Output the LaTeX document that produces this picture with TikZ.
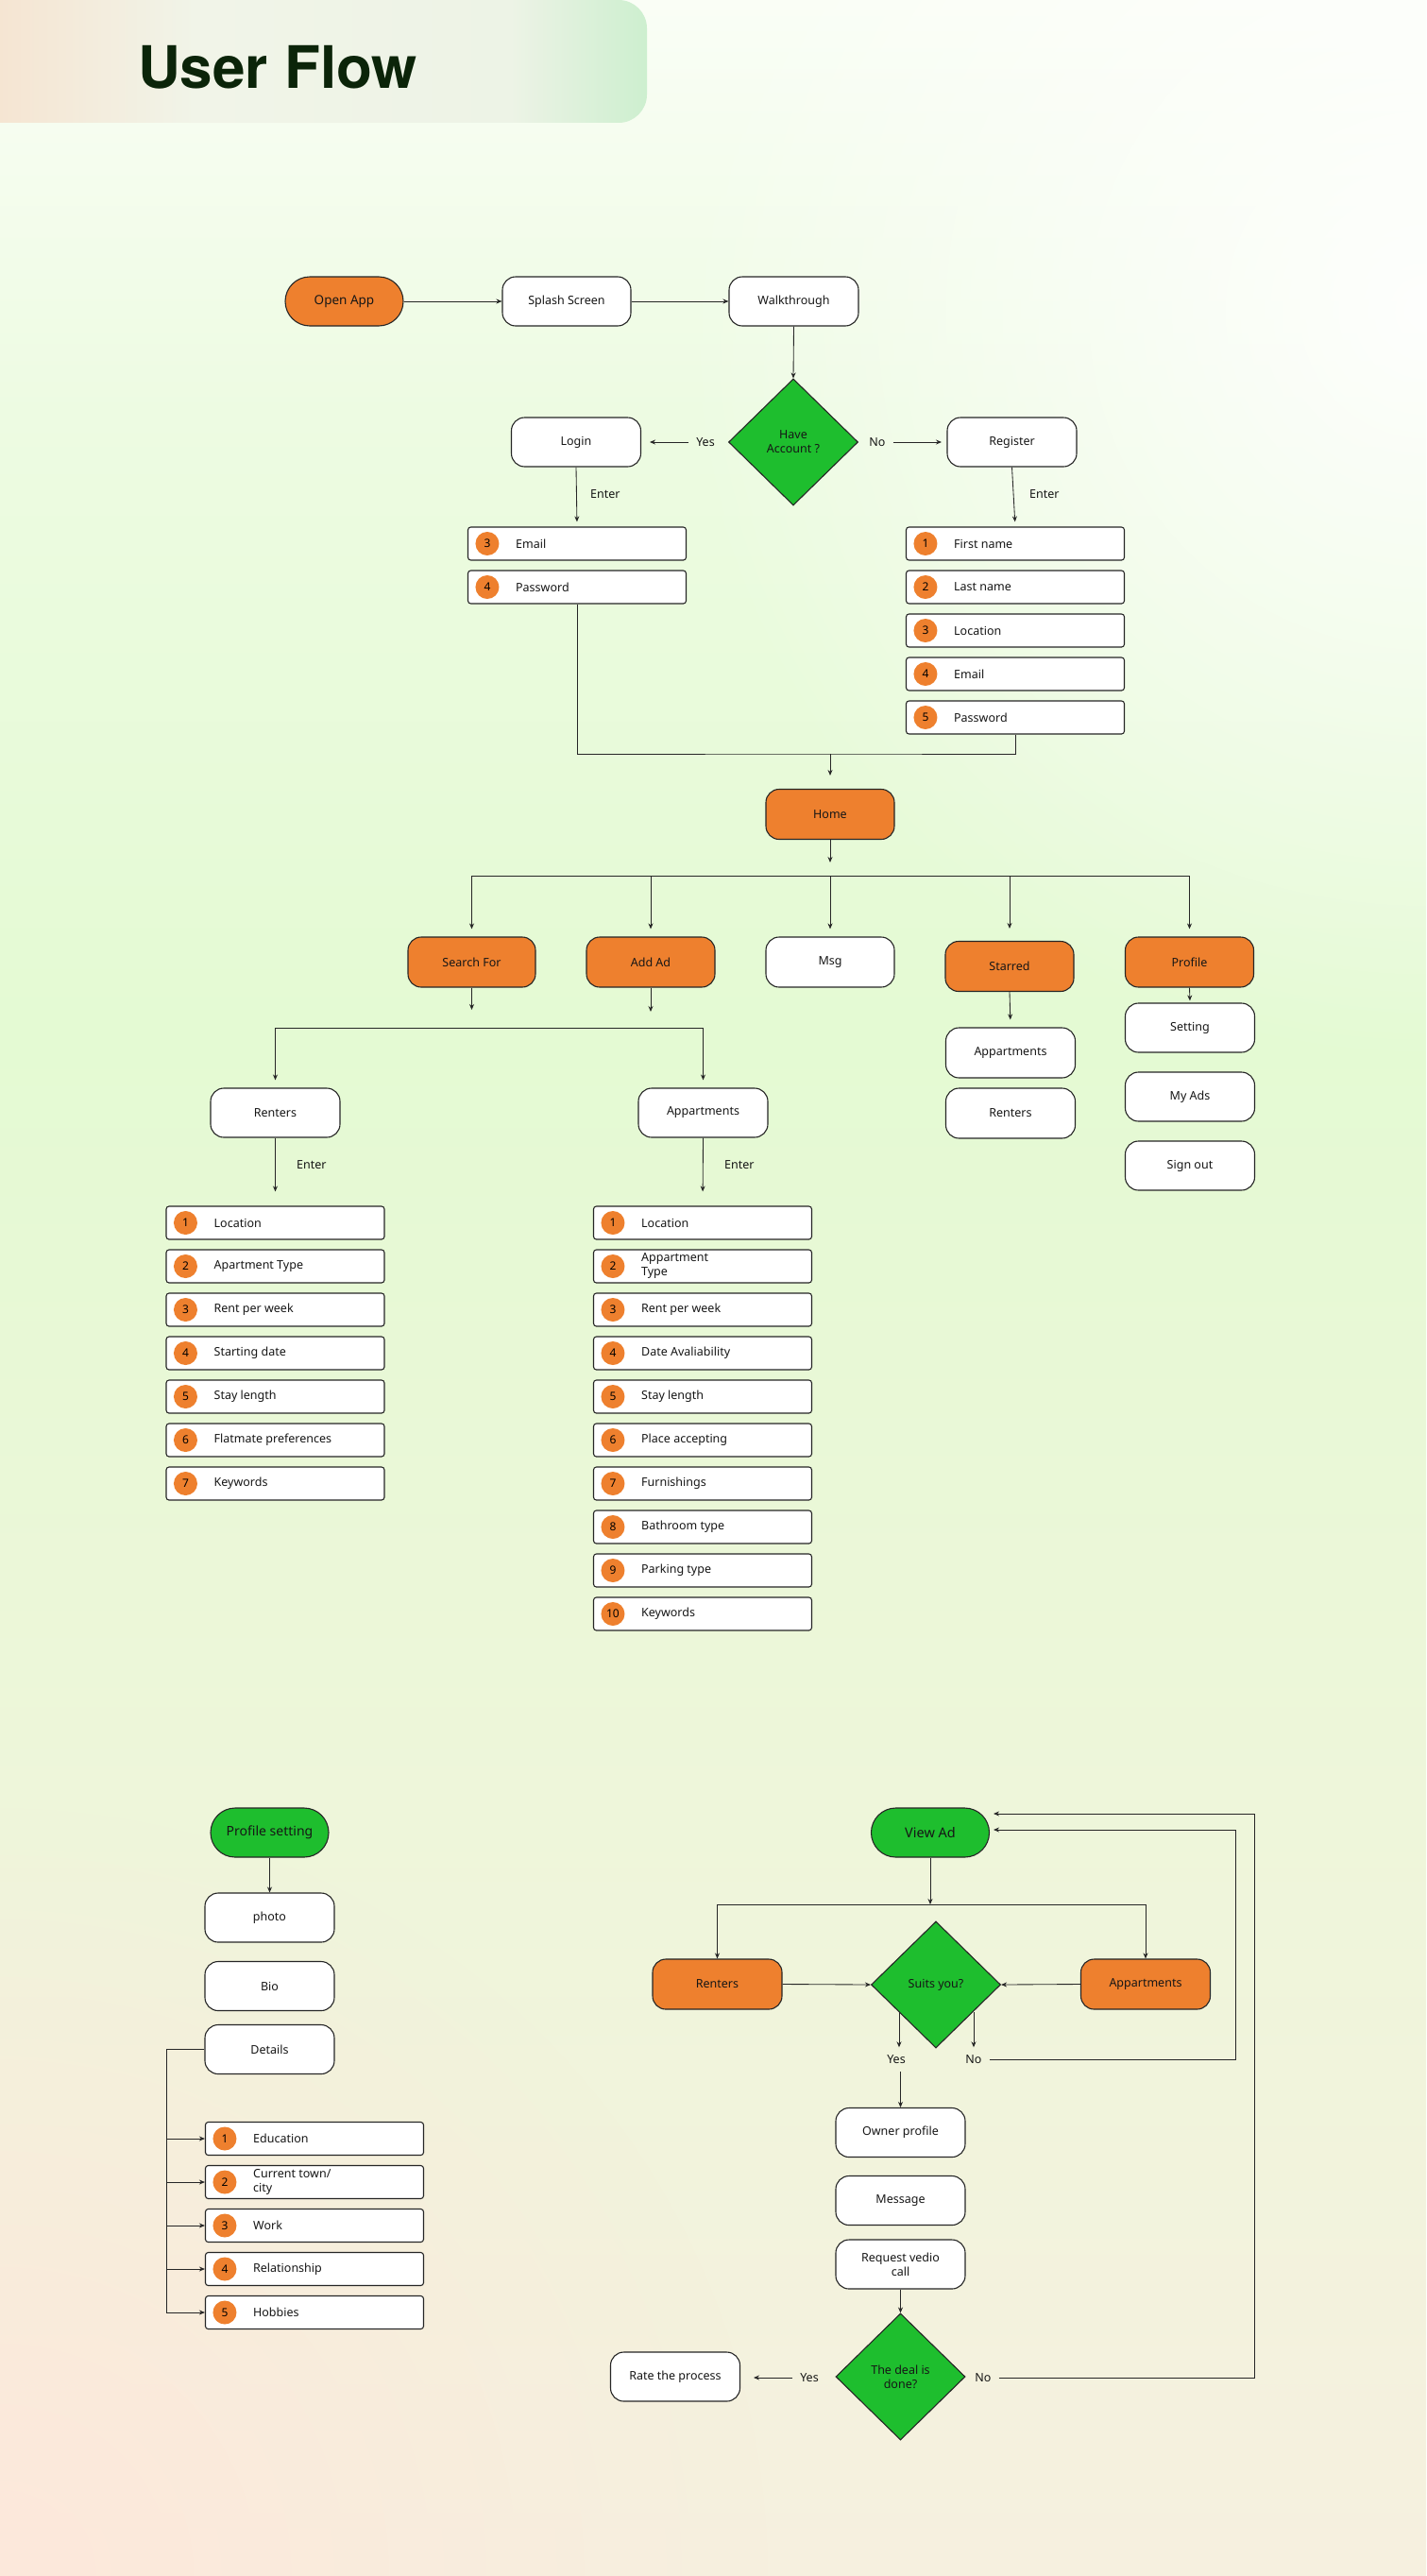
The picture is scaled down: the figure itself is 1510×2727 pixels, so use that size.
\documentclass[tikz,border=0pt]{standalone}
\usepackage{fontspec}
\setmainfont{Noto Sans}
\newfontfamily\titlefont{TeX Gyre Heros}
\usetikzlibrary{shapes.geometric,arrows.meta,fadings,calc}

\definecolor{orangeC}{HTML}{EE802E}
\definecolor{greenC}{HTML}{1EBE2E}
\definecolor{lineC}{HTML}{262626}
\definecolor{textC}{HTML}{161616}
\definecolor{titleC}{HTML}{0B2409}
\definecolor{bgA}{HTML}{F6F0DF}
\definecolor{bgB}{HTML}{EEF6DA}
\definecolor{bgC}{HTML}{E4FAD3}
\definecolor{bgD}{HTML}{EDFBE2}
\definecolor{bgE}{HTML}{FAFEF6}
\definecolor{peachC}{HTML}{FDE8DB}
\definecolor{bannerL}{HTML}{F6E2CE}
\definecolor{bannerM}{HTML}{F1F4E8}
\definecolor{bannerN}{HTML}{EDF3E6}
\definecolor{bannerR}{HTML}{CDEFCF}

\newcommand{\lbl}{\fontsize{12.5}{15}\selectfont}
\newcommand{\badgefont}{\fontsize{12}{13}\selectfont\bfseries}
\newcommand{\termfont}{\fontsize{14}{16}\selectfont}

% TikZ fits the 25bp--75bp band of a shading to the path
\pgfdeclareverticalshading{bgshade}{100bp}{color(0bp)=(bgA); color(25bp)=(bgA); color(40bp)=(bgB); color(55bp)=(bgC); color(67bp)=(bgD); color(75bp)=(bgE); color(100bp)=(bgE)}
\pgfdeclarehorizontalshading{bannershade}{100bp}{color(0bp)=(bannerL); color(25bp)=(bannerL); color(42bp)=(bannerM); color(65bp)=(bannerN); color(75bp)=(bannerR); color(100bp)=(bannerR)}
\tikzfading[name=softdisc, inner color=transparent!0, outer color=transparent!100]

% one numbered field: box, orange badge, label
\newcommand{\listitem}[5]{%
  \node[item] (#1) at (#2,#3) {};
  \node[badge] (#1n) at ([xshift=21pt]#1.west) {#4};
  \node[itemtext] (#1t) at ([xshift=51pt]#1.west) {#5};
}

\tikzset{
  proc/.style={draw=lineC, line width=1.1pt, rounded corners=14pt, fill=white,
    minimum width=137pt, minimum height=52pt, inner sep=0pt, font=\lbl,
    text=textC, align=center},
  oproc/.style={proc, fill=orangeC},
  term/.style={proc, rounded corners=26pt, minimum width=125pt, font=\termfont},
  decision/.style={diamond, draw=lineC, line width=1.1pt, fill=greenC,
    minimum width=137pt, minimum height=134pt, inner sep=0pt, font=\lbl,
    text=textC, align=center},
  item/.style={draw=lineC, line width=1.1pt, rounded corners=3pt, fill=white,
    minimum width=231pt, minimum height=35pt, inner sep=0pt},
  badge/.style={circle, fill=orangeC, minimum size=25pt, inner sep=0pt,
    font=\badgefont, text=black},
  itemtext/.style={anchor=west, font=\lbl, text=textC, align=left, inner sep=0pt},
  lab/.style={font=\lbl, text=textC, inner sep=0pt},
  yn/.style={font=\lbl, text=textC, inner sep=8pt},
  conn/.style={draw=lineC, line width=0.85pt},
  arr/.style={conn, -{Stealth[length=6pt,width=5pt]}},
}

\begin{document}
\begin{tikzpicture}[x=1pt,y=-1pt]
\useasboundingbox (0,0) rectangle (1510,2727);

% background wash
\shade[shading=bgshade] (0,0) rectangle (1510,2727);
\fill[white, path fading=softdisc, fill opacity=0.9] (1510,330) circle (800pt);
\fill[peachC, path fading=softdisc] (0,2727) circle (820pt);

% title banner
\shade[shading=bannershade, rounded corners=30pt] (-40,0) rectangle (685,130);
\node[anchor=base west, inner sep=0pt, text=titleC,
  font=\titlefont\bfseries\fontsize{62}{62}\selectfont] (title) at (146,94) {User Flow};

% ---------- onboarding ----------
\node[term, fill=orangeC, font=\fontsize{13.5}{16}\selectfont] (openapp) at (364.5,319) {Open App};
\node[proc, minimum width=136pt] (splash) at (600,319) {Splash Screen};
\node[proc] (walk) at (840.5,319) {Walkthrough};
\node[decision] (have) at (840,468) {Have\\Account ?};
\node[proc] (login) at (610,468) {Login};
\node[proc] (register) at (1071.5,468) {Register};
\node[yn] (yes1) at (747,468) {Yes};
\node[yn] (no1) at (929,468) {No};
\coordinate (loginIn) at (688,468);
\coordinate (regIn) at (997,468);

\draw[arr] (openapp.east) -- (splash.west);
\draw[arr] (splash.east) -- (walk.west);
\draw[arr] (walk.south) -- (have.north);
\draw[arr] (yes1.west) -- (loginIn);
\draw[arr] (no1.east) -- (regIn);

\listitem{l1}{611}{575.5}{3}{Email}
\listitem{l2}{611}{621.5}{4}{Password}

\listitem{g1}{1075}{575.5}{1}{First name}
\listitem{g2}{1075}{621.5}{2}{Last name}
\listitem{g3}{1075}{667.5}{3}{Location}
\listitem{g4}{1075}{713.5}{4}{Email}
\listitem{g5}{1075}{759.5}{5}{Password}

\node[lab, anchor=west] (enter1) at (625,523) {Enter};
\node[lab, anchor=west] (enter2) at (1090,523) {Enter};
\draw[arr, shorten >=5pt] (login.south) -- (l1.north);
\draw[arr, shorten >=5pt] (register.south) -- (g1.north);

% ---------- home ----------
\node[oproc, minimum width=136pt, minimum height=53pt] (home) at (879,862) {Home};
\coordinate (merge) at (879,798);
\draw[conn] (l2.south) |- (merge) -| (g5.south);
\draw[arr, shorten >=14pt] (merge) -- (home.north);

\node[oproc, minimum width=135pt, minimum height=53pt] (search) at (499.5,1018.5) {Search For};
\node[oproc, minimum width=136pt, minimum height=53pt] (addad) at (689,1018.5) {Add Ad};
\node[proc, minimum width=136pt, minimum height=53pt] (msg) at (879,1018.5) {Msg};
\node[oproc, minimum width=136pt, minimum height=53pt] (starred) at (1069,1023) {Starred};
\node[oproc, minimum width=136pt, minimum height=53pt] (profile) at (1259.5,1018.5) {Profile};

\coordinate (homeArr) at (879,913);
\coordinate (hbus) at (879,927);
\draw[arr] (home.south) -- (homeArr);
\draw[conn] (search.north |- hbus) -- (profile.north |- hbus);
\foreach \n in {search,addad,msg,profile}
  \draw[arr, shorten >=8pt] (\n.north |- hbus) -- (\n.north);
\draw[arr, shorten >=13pt] (starred.north |- hbus) -- (starred.north);

% search / add ad
\node[proc] (rent) at (291.5,1178) {Renters};
\node[proc] (apps) at (744.5,1178) {Appartments};
\coordinate (searchArr) at (499.5,1069);
\coordinate (addArr) at (689,1071);
\coordinate (sbus) at (500,1088);
\draw[arr] (search.south) -- (searchArr);
\draw[arr] (addad.south) -- (addArr);
\draw[conn] (rent.north |- sbus) -- (apps.north |- sbus);
\draw[arr, shorten >=8pt] (rent.north |- sbus) -- (rent.north);
\draw[arr, shorten >=8pt] (apps.north |- sbus) -- (apps.north);

\node[lab, anchor=west] (enter3) at (314,1233) {Enter};
\node[lab, anchor=west] (enter4) at (767,1233) {Enter};

\listitem{s1}{291.5}{1294.5}{1}{Location}
\listitem{s2}{291.5}{1340.5}{2}{Apartment Type}
\listitem{s3}{291.5}{1386.5}{3}{Rent per week}
\listitem{s4}{291.5}{1432.5}{4}{Starting date}
\listitem{s5}{291.5}{1478.5}{5}{Stay length}
\listitem{s6}{291.5}{1524.5}{6}{Flatmate preferences}
\listitem{s7}{291.5}{1570.5}{7}{Keywords}

\listitem{a1}{744}{1294.5}{1}{Location}
\listitem{a2}{744}{1340.5}{2}{Appartment\\Type}
\listitem{a3}{744}{1386.5}{3}{Rent per week}
\listitem{a4}{744}{1432.5}{4}{Date Avaliability}
\listitem{a5}{744}{1478.5}{5}{Stay length}
\listitem{a6}{744}{1524.5}{6}{Place accepting}
\listitem{a7}{744}{1570.5}{7}{Furnishings}
\listitem{a8}{744}{1616.5}{8}{Bathroom type}
\listitem{a9}{744}{1662.5}{9}{Parking type}
\listitem{a10}{744}{1708.5}{10}{Keywords}

\draw[arr, shorten >=15pt] (rent.south) -- (s1.north);
\draw[arr, shorten >=15pt] (apps.south) -- (a1.north);

% starred
\node[proc, minimum height=53pt] (sapp) at (1070,1114.5) {Appartments};
\node[proc, minimum height=53pt] (srent) at (1070,1178.5) {Renters};
\draw[arr, shorten >=8pt] (starred.south) -- (sapp.north);

% profile
\node[proc] (setting) at (1260,1088) {Setting};
\node[proc] (myads) at (1260,1161) {My Ads};
\node[proc] (signout) at (1260,1234) {Sign out};
\draw[arr, shorten >=2pt] (profile.south) -- (setting.north);

% ---------- profile setting ----------
\node[term, fill=greenC] (psetting) at (285.5,1940) {Profile setting};
\node[proc] (photo) at (285.5,2030) {photo};
\node[proc] (bio) at (285.5,2102.5) {Bio};
\node[proc] (details) at (285.5,2169.5) {Details};
\draw[arr] (psetting.south) -- (photo.north);

\listitem{d1}{333}{2264}{1}{Education}
\listitem{d2}{333}{2310}{2}{Current town/\\city}
\listitem{d3}{333}{2356}{3}{Work}
\listitem{d4}{333}{2402}{4}{Relationship}
\listitem{d5}{333}{2448}{5}{Hobbies}

\coordinate (dtrunk) at (176,2169.5);
\draw[conn] (details.west) -- (dtrunk);
\foreach \k in {1,...,5}
  \draw[arr] (dtrunk) |- (d\k.west);

% ---------- view ad ----------
\node[term, fill=greenC, font=\fontsize{14.5}{17}\selectfont] (viewad) at (985,1940) {View Ad};
\node[oproc, minimum height=53pt] (rent2) at (759.5,2100.5) {Renters};
\node[oproc, minimum height=53pt] (apps2) at (1213,2100.5) {Appartments};
\node[decision] (suits) at (991,2101) {Suits you?};
\coordinate (vbus) at (985,2016);
\draw[arr] (viewad.south) -- (vbus);
\draw[arr] (vbus) -| (rent2.north);
\draw[arr] (vbus) -| (apps2.north);
\draw[arr] (rent2.east) -- (suits.west);
\draw[arr] (apps2.west) -- (suits.east);

\node[yn] (syes) at (949,2180) {Yes};
\node[yn] (sno) at (1031,2180) {No};
\coordinate (sy0) at (952,2130);
\coordinate (sn0) at (1031,2130);
\draw[arr] (sy0) -- (syes.north -| sy0);
\draw[arr] (sn0) -- (sno.north);

\node[proc] (owner) at (953.5,2257.5) {Owner profile};
\node[proc] (message) at (953.5,2329.5) {Message};
\node[proc] (request) at (953.5,2397) {Request vedio\\call};
\draw[arr] (syes.south -| owner.north) -- (owner.north);

\node[decision] (deal) at (953.5,2516) {The deal is\\done?};
\node[proc] (rate) at (715,2516) {Rate the process};
\draw[arr] (request.south) -- (deal.north);

\node[yn] (dyes) at (857,2517) {Yes};
\node[yn] (dno) at (1041,2517) {No};
\coordinate (rateIn) at (798,2517);
\draw[arr] (dyes.west) -- (rateIn);

% loops back to View Ad
\coordinate (loop1) at (1328,1920);
\coordinate (loop2) at (1308,1937);
\coordinate (va1) at (1052,1920);
\coordinate (va2) at (1052,1937);
\draw[arr] (sno.east) -| (loop2) -- (va2);
\draw[arr] (dno.east) -| (loop1) -- (va1);

\end{tikzpicture}
\end{document}
